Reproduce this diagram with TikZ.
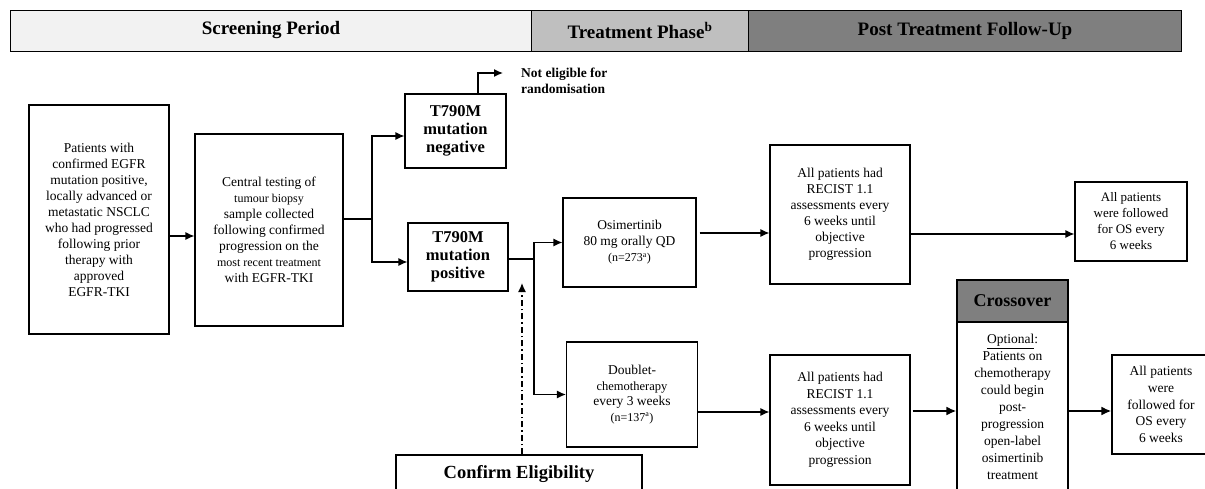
\documentclass[tikz,border=0pt]{standalone}
\usepackage{fontspec}
\setmainfont{Liberation Serif}
\usetikzlibrary{arrows.meta,calc}
\definecolor{hdrA}{HTML}{F2F2F2}
\definecolor{hdrB}{HTML}{BFBFBF}
\definecolor{hdrC}{HTML}{7F7F7F}
\begin{document}
\begin{tikzpicture}[x=1pt,y=-1pt,
  box/.style={draw,line width=1.1pt,align=center,inner sep=0pt,font=\fontsize{13.5}{16}\selectfont},
  bbox/.style={box,font=\bfseries\fontsize{16.5}{18}\selectfont},
  hdr/.style={draw,line width=1pt,anchor=west,minimum height=41pt,inner sep=0pt,font=\bfseries\fontsize{19}{20}\selectfont},
  arr/.style={line width=1.3pt,-{Latex[length=9pt,width=8pt]}},
  tarr/.style={line width=2.2pt,-{Latex[length=10pt,width=9pt]}},
  ln/.style={line width=1.3pt},
  dd/.style={line width=1.3pt,dash pattern=on 6pt off 3pt on 1.5pt off 3pt,-{Latex[length=9pt,width=8pt]}}
]
\useasboundingbox (0,0) rectangle (1205,488);
% header
\node[hdr,fill=hdrA,minimum width=521pt] (h1) at (10,30.5) {Screening Period};
\node[hdr,fill=hdrB,minimum width=217pt] (h2) at (531,30.5) {Treatment Phase\textsuperscript{b}};
\node[hdr,fill=hdrC,minimum width=433pt] (h3) at (748,30.5) {Post Treatment Follow-Up};
% boxes
\node[box,minimum width=140pt,minimum height=229pt] (pat) at (99,219.5)
  {Patients with\\confirmed EGFR\\mutation positive,\\locally advanced or\\metastatic NSCLC\\who had progressed\\following prior\\therapy with\\approved\\EGFR-TKI};
\node[box,minimum width=148pt,minimum height=192pt] (cen) at (269,230)
  {Central testing of\\{\fontsize{12}{16}\selectfont tumour biopsy}\\sample collected\\following confirmed\\progression on the\\{\fontsize{12}{16}\selectfont most recent treatment}\\with EGFR-TKI};
\node[bbox,minimum width=101pt,minimum height=74pt] (neg) at (455.5,131) {T790M\\mutation\\negative};
\node[bbox,minimum width=100pt,minimum height=68pt] (pos) at (458,257) {T790M\\mutation\\positive};
\node[anchor=west,align=left,inner sep=0pt,font=\bfseries\fontsize{13.5}{16}\selectfont] (ne) at (521,81) {Not eligible for\\randomisation};
\node[box,minimum width=133pt,minimum height=89pt] (osi) at (629.5,242.5)
  {Osimertinib\\80 mg orally QD\\{\fontsize{12}{17}\selectfont(n=273\textsuperscript{a})}};
\node[box,minimum width=140pt,minimum height=139pt] (r1) at (840,214.5)
  {All patients had\\RECIST 1.1\\assessments every\\6 weeks until\\objective\\progression};
\node[box,minimum width=112pt,minimum height=79pt,font=\fontsize{13}{16}\selectfont] (f1) at (1131,221.5)
  {All patients\\were followed\\for OS every\\6 weeks};
\node[box,minimum width=131pt,minimum height=105pt,font=\fontsize{13.5}{15.5}\selectfont] (dbl) at (632,394.5)
  {Doublet-\\{\fontsize{12.5}{15.5}\selectfont chemotherapy}\\every 3 weeks\\{\fontsize{12}{20}\selectfont(n=137\textsuperscript{a})}};
\node[box,minimum width=140pt,minimum height=130pt,font=\fontsize{13.5}{16.5}\selectfont] (r2) at (840,420)
  {All patients had\\RECIST 1.1\\assessments every\\6 weeks until\\objective\\progression};
\node[box,fill=hdrC,minimum width=111pt,minimum height=42pt,font=\bfseries\fontsize{18}{20}\selectfont] (ch) at (1012.5,301) {Crossover};
\node[box,minimum width=111pt,minimum height=170pt,font=\fontsize{13.5}{17}\selectfont] (cb) at (1012.5,407)
  {\underline{Optional}:\\Patients on\\chemotherapy\\could begin\\post-\\progression\\open-label\\osimertinib\\treatment};
\node[box,minimum width=98pt,minimum height=99pt,font=\fontsize{13.5}{16.8}\selectfont] (f2) at (1161,404.5)
  {All patients\\were\\followed for\\OS every\\6 weeks};
\node[box,minimum width=246pt,minimum height=38pt,font=\bfseries\fontsize{18.5}{20}\selectfont] (conf) at (519,474) {Confirm Eligibility};
% connectors
\draw[arr] ([yshift=-16.5pt]pat.east) -- ([yshift=-16.5pt]pat.east -| cen.west);
\coordinate (s1) at (372,219);
\draw[ln] (s1 -| cen.east) -- (s1);
\draw[arr] (s1) |- ([yshift=-5pt]neg.west);
\draw[arr] (s1) |- ([yshift=-5pt]pos.west);
\coordinate (ne1) at (478,73);
\draw[arr] (ne1 |- neg.north) -- (ne1) -- ++(25,0);
\coordinate (s2) at (534,259);
\draw[ln] (s2 -| pos.east) -- (s2);
\draw[arr] (s2) |- (osi.west);
\draw[arr] (s2) |- (dbl.west);
\coordinate (tip) at (522,283);
\draw[dd] (tip |- conf.north) -- (tip);
\draw[arr] ([shift={(3pt,9.5pt)}]osi.east) -- ([yshift=9.5pt]osi.east -| r1.west);
\draw[arr] ([yshift=-19.5pt]r1.east) -- ([yshift=-19.5pt]r1.east -| f1.west);
\draw[arr] ([yshift=-17.5pt]dbl.east) -- ([yshift=-17.5pt]dbl.east -| r2.west);
\draw[tarr] ([shift={(2pt,9pt)}]r2.east) -- ([yshift=9pt]r2.east -| cb.west);
\draw[tarr] ([yshift=-4pt]cb.east) -- ([yshift=-4pt]cb.east -| f2.west);
\end{tikzpicture}
\end{document}
